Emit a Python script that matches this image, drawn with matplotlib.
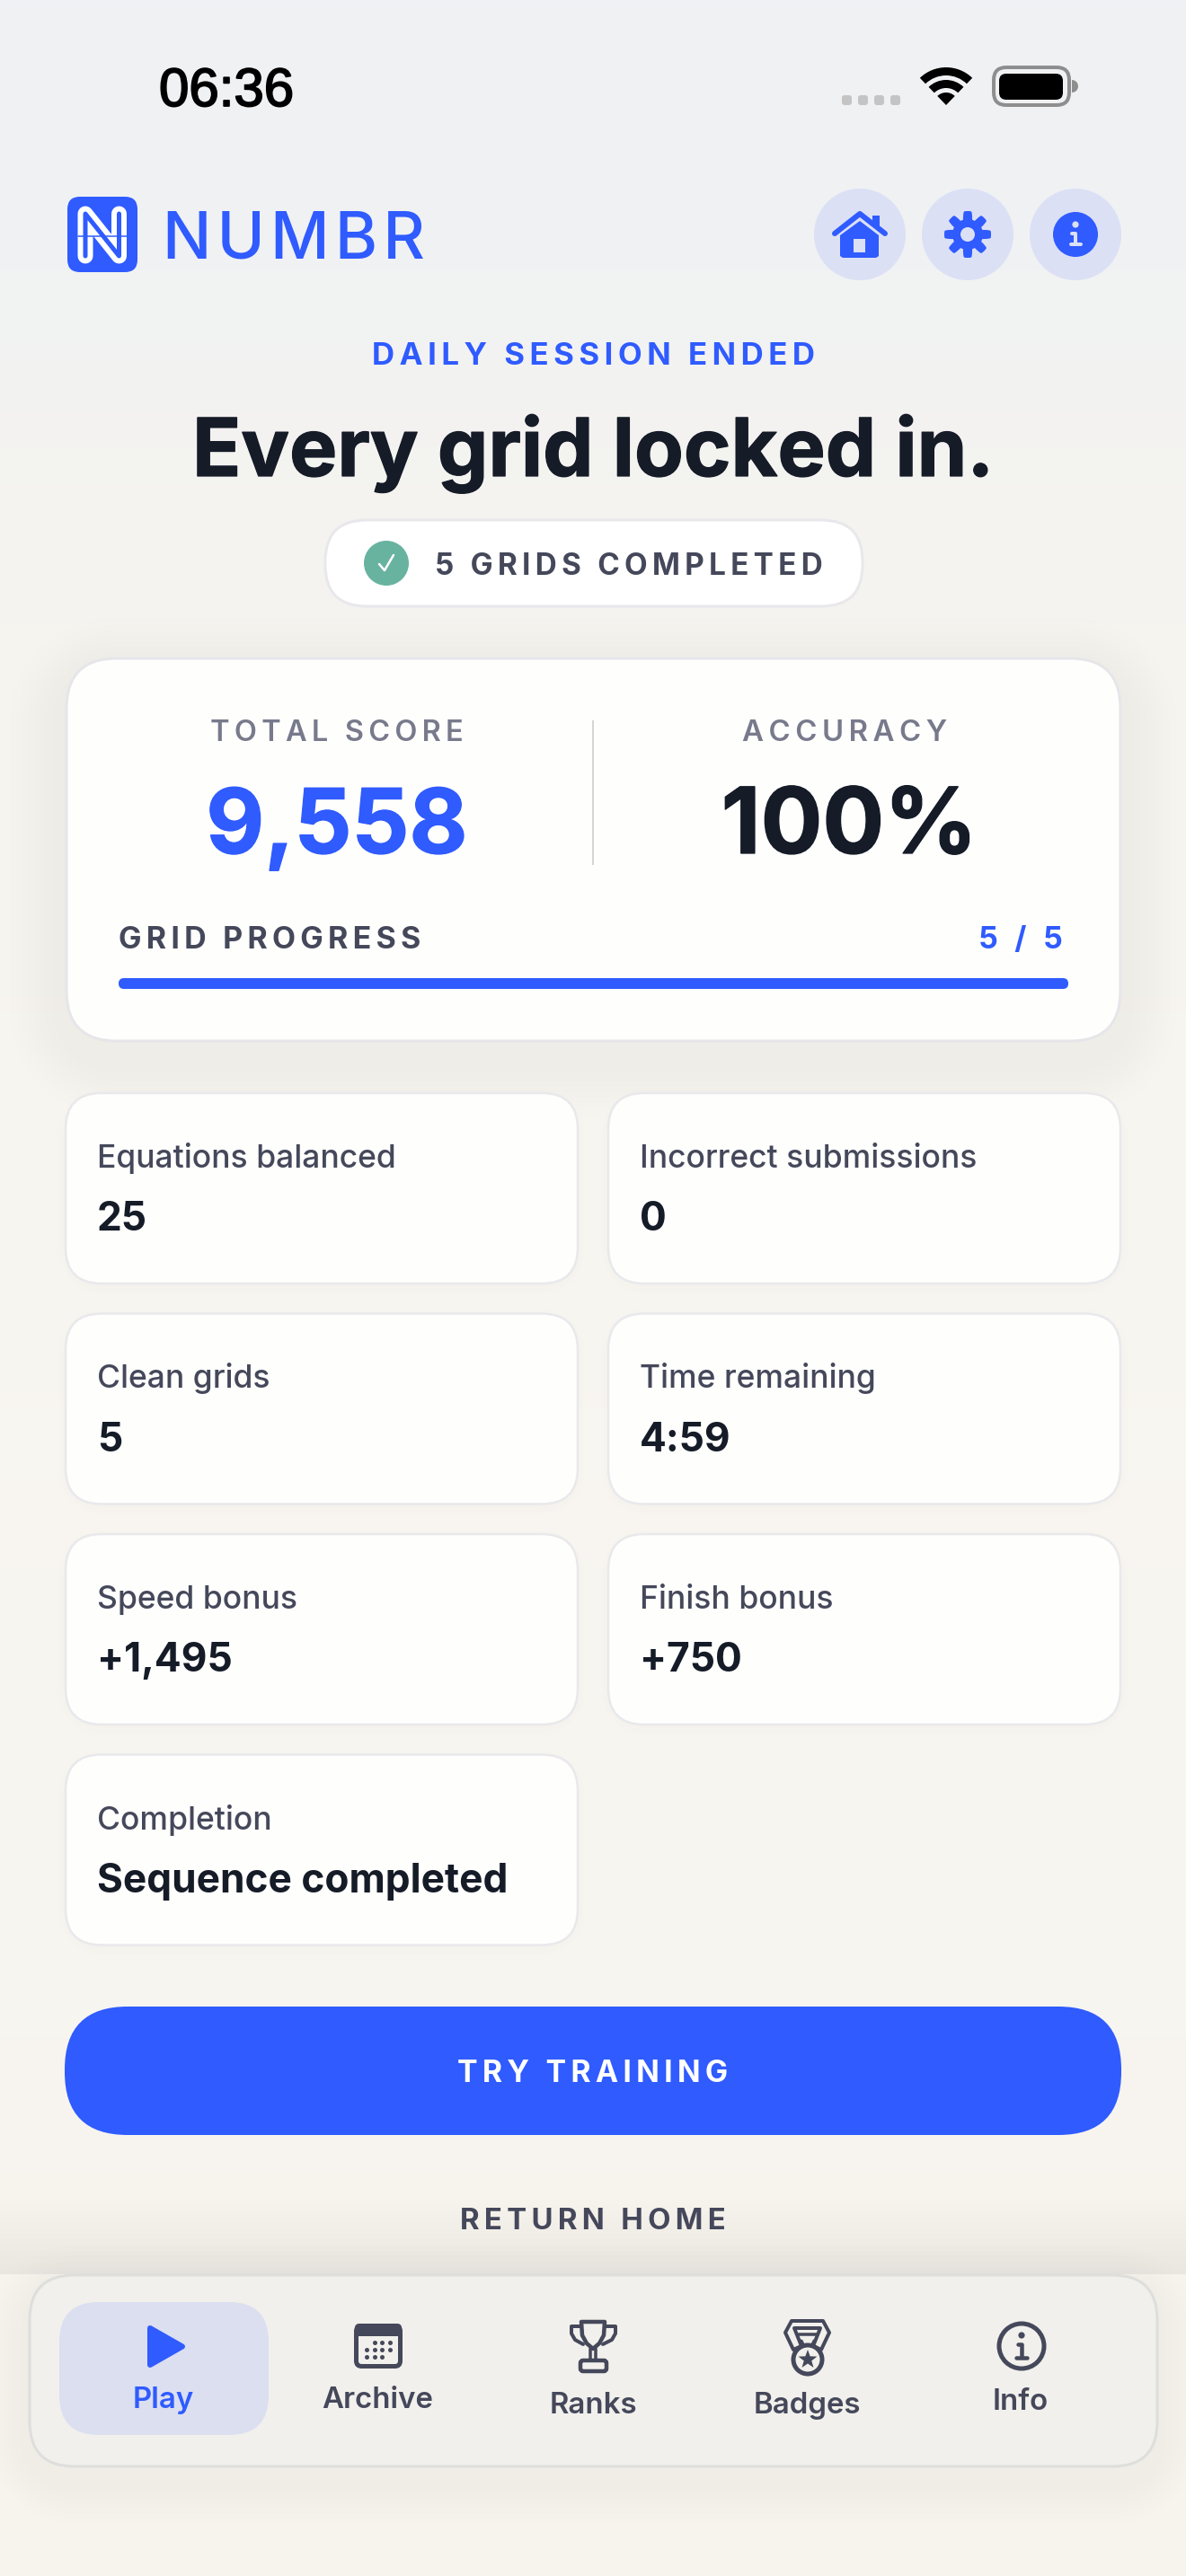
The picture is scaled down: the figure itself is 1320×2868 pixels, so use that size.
import numpy as np
import matplotlib
matplotlib.use('Agg')
import matplotlib.pyplot as plt
import matplotlib.patheffects as pe
from matplotlib.patches import FancyBboxPatch, Circle, Wedge, Polygon, Rectangle

plt.rcParams['font.family'] = ['Inter', 'DejaVu Sans']

# values
clock_text = '06:36'
brand_text = 'NUMBR'
kicker_text = 'DAILY SESSION ENDED'
title_text = 'Every grid locked in.'
pill_text = '5 GRIDS COMPLETED'
score_label = 'TOTAL SCORE'
score_value = '9,558'
accuracy_label = 'ACCURACY'
accuracy_value = '100%'
progress_label = 'GRID PROGRESS'
progress_text = '5 / 5'
grids_done = 5
grids_total = 5
stat_labels = ['Equations balanced', 'Incorrect submissions', 'Clean grids',
               'Time remaining', 'Speed bonus', 'Finish bonus', 'Completion']
stat_values = ['25', '0', '5', '4:59', '+1,495', '+750', 'Sequence completed']
button_text = 'TRY TRAINING'
link_text = 'RETURN HOME'
nav_labels = ['Play', 'Archive', 'Ranks', 'Badges', 'Info']
nav_centers = [182, 420, 660, 898, 1136]
nav_text_y = [2681, 2681, 2687, 2687, 2683]

BLUE = '#2F5BFF'
INK = '#151B27'
SLATE = '#45485A'
GREY = '#787A8C'
TINT = '#DBE0F5'
W, H = 1320, 2868

fig = plt.figure(figsize=(13.2, 28.68), dpi=100)
ax = fig.add_axes([0, 0, 1, 1])
ax.set_xlim(0, W)
ax.set_ylim(H, 0)
ax.axis('off')


def px(v):
    # pixels to points
    return v * 0.72


def tracked(s, n=2):
    return ('\u200a' * n).join(s)


def label(x, y, s, size, color=INK, weight='normal', ha='center', z=10, **kw):
    return ax.text(x, y, s, fontsize=px(size), color=color, fontweight=weight,
                   ha=ha, va='baseline', zorder=z, **kw)


def heavy(color):
    # inter bold sits a little lighter than the screenshot at display sizes
    return [pe.withStroke(linewidth=0.9, foreground=color)]


def rbox(x0, y0, x1, y1, r, fc, ec='none', lw=0, z=3):
    p = FancyBboxPatch((x0, y0), x1 - x0, y1 - y0,
                       boxstyle='round,pad=0,rounding_size=%g' % r,
                       fc=fc, ec=ec, lw=px(lw), zorder=z, mutation_aspect=1)
    ax.add_patch(p)
    return p


def shadow(x0, y0, x1, y1, r, blur, alpha, z=2):
    # soft drop shadow from a rounded rect distance field
    m = int(blur * 2)
    xs = np.arange(x0 - m, x1 + m, 2.0)
    ys = np.arange(y0 - m, y1 + m, 2.0)
    X, Y = np.meshgrid(xs, ys)
    cx, cy = (x0 + x1) / 2, (y0 + y1) / 2
    qx = np.abs(X - cx) - (x1 - x0) / 2 + r
    qy = np.abs(Y - cy) - (y1 - y0) / 2 + r
    d = np.hypot(np.maximum(qx, 0), np.maximum(qy, 0)) + np.minimum(np.maximum(qx, qy), 0) - r
    t = np.clip(1 - d / blur, 0, 1)
    img = np.zeros(X.shape + (4,))
    img[..., 3] = alpha * t * t * (3 - 2 * t)
    ax.imshow(img, extent=(xs[0], xs[-1], ys[-1], ys[0]), zorder=z, aspect='auto',
              interpolation='bilinear')


def stroke(xs, ys, color, w, z=6, cap='round'):
    ax.plot(xs, ys, color=color, lw=px(w), solid_capstyle=cap,
            solid_joinstyle='round', zorder=z)


# page background
stops_y = [0, 300, 700, 1600, 2868]
stops_c = [(0.945, 0.949, 0.957), (0.945, 0.949, 0.953), (0.965, 0.957, 0.937),
           (0.973, 0.965, 0.945), (0.969, 0.957, 0.933)]
rows = np.arange(H)
grad = np.stack([np.interp(rows, stops_y, [c[i] for c in stops_c]) for i in range(3)], axis=1)
ax.imshow(grad[:, None, :], extent=(0, W, H, 0), aspect='auto', zorder=0)
ax.set_xlim(0, W)
ax.set_ylim(H, 0)

# status bar
ax.text(177, 118, clock_text, fontsize=px(60), family=['Liberation Sans'], color='black',
        ha='left', va='baseline', zorder=10,
        path_effects=[pe.withStroke(linewidth=1.3, foreground='black')])
for sx in [937, 955, 973, 991]:
    rbox(sx, 106, sx + 11, 117, 3, '#C4C4C4')
for r0, w in [(42, 9), (28, 9), (14, 14)]:
    ax.add_patch(Wedge((1053, 117), r0, 226, 314, width=w, fc='black', ec='none', zorder=5))
rbox(1106, 75, 1190, 117, 14, 'none', ec='#8E8E8E', lw=4, z=5)
rbox(1112, 82, 1183, 111, 8, 'black', z=5)
ax.add_patch(Wedge((1193, 96), 7, -90, 90, fc='#8E8E8E', ec='none', zorder=5))

# logo
rbox(75, 219, 153, 303, 14, BLUE)
stroke([95, 95, 132.5, 132.5], [285, 238, 285, 238], 'white', 17)
stroke([95, 95, 132.5, 132.5], [285, 238, 285, 238], BLUE, 5, z=7)
stroke([87, 141], [263, 263], BLUE, 1.5, z=8)
label(181, 288, tracked(brand_text, 1), 72, BLUE, 'medium', ha='left')

# header buttons
for cx in [957, 1077, 1197]:
    ax.add_patch(Circle((cx, 261), 51, fc=TINT, ec='none', zorder=3))
stroke([929, 957, 985], [260, 238, 260], BLUE, 6)
ax.add_patch(Rectangle((971, 240), 8, 12, fc=BLUE, ec='none', zorder=6))
ax.add_patch(Polygon([(935, 262), (957, 246), (978, 262), (978, 285), (975, 287),
                      (938, 287), (935, 285)], fc=BLUE, ec='none', zorder=6))
ax.add_patch(Rectangle((950, 266), 13, 15, fc=TINT, ec='none', zorder=7))
ang = np.linspace(0, 2 * np.pi, 361)
gear_r = 20.5 + 4.5 * np.clip(2.2 * np.cos(8 * ang), -1, 1)
ax.add_patch(Polygon(np.c_[1077 + gear_r * np.cos(ang), 261 + gear_r * np.sin(ang)],
                     fc=BLUE, ec=BLUE, lw=px(2), joinstyle='round', zorder=6))
ax.add_patch(Circle((1077, 261), 8, fc=TINT, ec='none', zorder=7))
ax.add_patch(Circle((1197, 261), 25, fc=BLUE, ec='none', zorder=6))
ax.add_patch(Circle((1197, 250), 3.6, fc=TINT, ec='none', zorder=7))
stroke([1193, 1197, 1197], [260, 260, 272], TINT, 4, z=7)
stroke([1192, 1203], [272, 272], TINT, 4, z=7)

# heading
label(660, 406, tracked(kicker_text), 34.8, BLUE, 'bold')
label(660, 530, title_text, 89.5, INK, 'bold', path_effects=heavy(INK))
rbox(362, 579, 960, 675, 46, 'white', ec='#E8E8EC', lw=3)
ax.add_patch(Circle((430, 627), 25, fc='#68B3A0', ec='none', zorder=5))
stroke([422, 428, 438], [628, 635, 618], 'white', 2.5)
label(484, 640, tracked(pill_text), 33.3, SLATE, 'bold', ha='left')

# score card
shadow(73, 750, 1247, 1180, 56, 80, 0.035)
rbox(74, 733, 1247, 1159, 56, '#FEFEFD', ec='#E6E6EA', lw=3)
label(375, 825, tracked(score_label), 32.5, GREY, 'semibold')
label(375, 950, score_value, 100, BLUE, 'bold', path_effects=heavy(BLUE))
label(940, 825, tracked(accuracy_label), 33, GREY, 'semibold')
label(945, 950, accuracy_value, 102, INK, 'bold', path_effects=heavy(INK))
ax.plot([660, 660], [803, 962], color='#D5D5D8', lw=px(2), zorder=6)
label(132, 1056, tracked(progress_label), 34, SLATE, 'bold', ha='left')
label(1183, 1056, tracked(progress_text), 34, BLUE, 'bold', ha='right')
rbox(132, 1089, 1189, 1101, 6, '#E3E6F2', z=4)
rbox(132, 1089, 132 + 1057 * grids_done / grids_total, 1101, 6, BLUE, z=5)

# stat tiles
for i, (name, val) in enumerate(zip(stat_labels, stat_values)):
    col, row = i % 2, i // 2
    x0 = 73 + col * 604
    y0 = 1217 + row * 245.5
    shadow(x0, y0 + 4, x0 + 570, y0 + 216, 40, 14, 0.012)
    rbox(x0, y0, x0 + 570, y0 + 212, 40, '#FEFEFD', ec='#E9E9EC', lw=2.5)
    label(x0 + 35, y0 + 83, name, 35.5, SLATE, 'medium', ha='left')
    label(x0 + 35, y0 + 153, val, 44.2, INK, 'bold', ha='left')

# actions
rbox(72, 2234, 1248, 2377, 70, BLUE)
label(660, 2318, tracked(button_text), 33.8, 'white', 'bold')
label(660, 2482, tracked(link_text), 33, SLATE, 'bold')

# bottom nav
strip = np.zeros((90, 1, 4))
strip[..., 3] = (np.linspace(0, 0.055, 90) ** 1)[:, None]
ax.imshow(strip, extent=(0, W, 2532, 2442), aspect='auto', zorder=2)
shadow(33, 2545, 1288, 2765, 50, 60, 0.03, z=1)
rbox(33, 2533, 1288, 2746, 50, '#F1F0EC', ec='#DEDEDC', lw=3)
rbox(66, 2563, 299, 2711, 44, '#DBDFF0', z=4)
for cx, y, name in zip(nav_centers, nav_text_y, nav_labels):
    label(cx, y, name, 33, BLUE if name == 'Play' else SLATE, 'semibold')
ax.add_patch(Polygon([(167, 2592), (203, 2612.5), (167, 2633)], fc=BLUE, ec=BLUE, lw=px(6),
                     joinstyle='round', zorder=6))

# calendar
rbox(396.5, 2589.5, 445.5, 2634.5, 6, 'none', ec=SLATE, lw=5, z=6)
rbox(395, 2587, 447, 2601, 5, SLATE, z=6)
for row_y, row_x in [(2608, [417, 425, 434]), (2616, [408, 417, 425, 434]),
                     (2624, [408, 417, 425])]:
    ax.scatter(row_x, [row_y] * len(row_x), s=px(5) ** 2, color=SLATE, lw=0, zorder=7)

# trophy
ax.add_patch(Polygon([(647, 2585), (673, 2585), (672, 2600), (667, 2609), (660, 2615),
                      (653, 2609), (648, 2600)], fc='none', ec=SLATE, lw=px(4.5),
                     joinstyle='round', zorder=6))
stroke([647, 636, 636, 640, 649], [2590, 2590, 2598, 2605, 2610], SLATE, 4)
stroke([673, 685, 685, 681, 671], [2590, 2590, 2598, 2605, 2610], SLATE, 4)
stroke([657, 657], [2615, 2628], SLATE, 3.5)
stroke([663, 663], [2615, 2628], SLATE, 3.5)
rbox(646, 2628, 675, 2640, 3, 'none', ec=SLATE, lw=4.5, z=6)

# medal
ax.add_patch(Polygon([(881, 2584), (916, 2584), (923, 2597), (914, 2616), (905, 2612),
                      (913, 2592), (884, 2592), (892, 2612), (883, 2616), (874, 2597)],
                     fc='none', ec=SLATE, lw=px(4), joinstyle='round', zorder=6))
stroke([889, 909], [2599, 2599], SLATE, 3.5)
stroke([892, 895], [2606, 2612], SLATE, 3)
stroke([906, 903], [2606, 2612], SLATE, 3)
ax.add_patch(Circle((899, 2627), 16, fc='none', ec=SLATE, lw=px(5), zorder=6))
star = [(899 + (11 if k % 2 == 0 else 4.5) * np.sin(k * np.pi / 5),
         2627 - (11 if k % 2 == 0 else 4.5) * np.cos(k * np.pi / 5)) for k in range(10)]
ax.add_patch(Polygon(star, fc=SLATE, ec='none', zorder=6))

# info
ax.add_patch(Circle((1137, 2612), 25, fc='none', ec=SLATE, lw=px(5), zorder=6))
ax.add_patch(Circle((1137, 2600), 3.6, fc=SLATE, ec='none', zorder=6))
stroke([1133, 1137, 1137], [2610, 2610, 2624], SLATE, 4.5)
stroke([1131, 1143], [2625, 2625], SLATE, 4.5)

fig.savefig('out.png', dpi=100)
